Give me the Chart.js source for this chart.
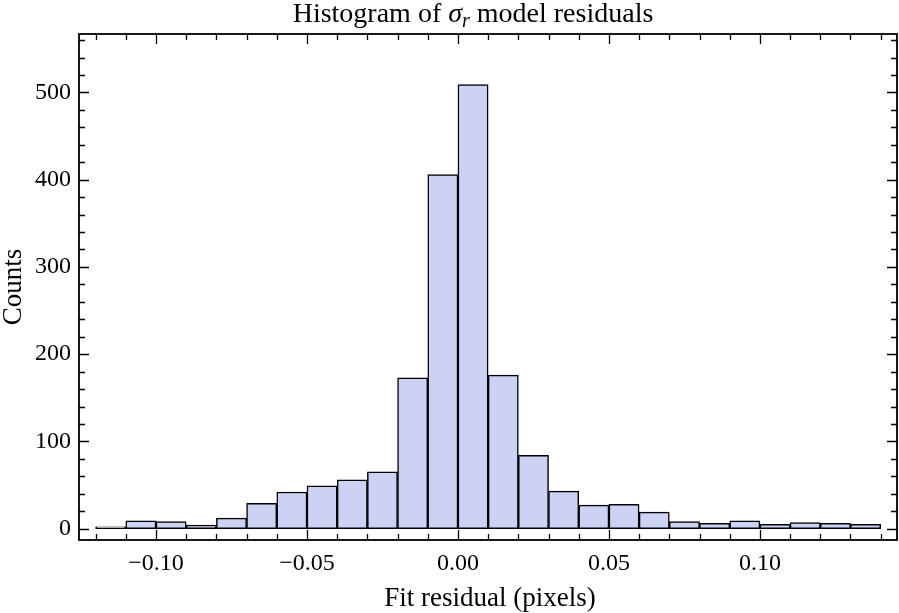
<!DOCTYPE html>
<html>
<head>
<meta charset="utf-8">
<script src="https://cdn.jsdelivr.net/npm/chart.js@4"></script>
<style>
  html, body { margin: 0; padding: 0; background: #fff; }
  #wrap { width: 899px; height: 613px; }
</style>
</head>
<body>
<div id="wrap"><canvas id="hist" width="899" height="613"></canvas></div>
<script>
// histogram of sigma_r residuals - bins of width 0.01

const binCenters = [-0.115, -0.105, -0.095, -0.085, -0.075, -0.065, -0.055, -0.045, -0.035, -0.025,
  -0.015, -0.005, 0.005, 0.015, 0.025, 0.035, 0.045, 0.055, 0.065, 0.075,
  0.085, 0.095, 0.105, 0.115, 0.125, 0.135];
const counts = [2, 9, 8, 4, 12, 29, 42, 49, 56, 65,
  173, 406, 509, 176, 84, 43, 27, 28, 19, 8,
  6, 9, 5, 7, 6, 5];
const xMajorTicks = [-0.10, -0.05, 0.00, 0.05, 0.10];
const yMajorTicks = [0, 100, 200, 300, 400, 500];

const titleText = ['Histogram of ', 'σ', 'r', ' model residuals'];
const xTitle = 'Fit residual (pixels)';
const yTitle = 'Counts';

const SERIF = '"Liberation Serif", "Times New Roman", serif';
const fmtX = v => (v < 0 ? '\u2212' : '') + Math.abs(v).toFixed(2);

// frame + inward ticks on all four sides, and the texts
const framePlugin = {
  id: 'frame',
  afterDraw(chart) {
    const { ctx, chartArea: a, scales } = chart;
    const xs = scales.x, ys = scales.y;
    ctx.save();
    ctx.strokeStyle = '#000';
    ctx.lineWidth = 1.8;
    ctx.strokeRect(a.left, a.top, a.right - a.left, a.bottom - a.top);

    ctx.lineWidth = 1.3;
    ctx.beginPath();
    // x ticks: minor every 0.01, major every 0.05
    for (let k = -12; k <= 14; k++) {
      const v = k / 100;
      const px = Math.round(xs.getPixelForValue(v)) + 0.5;
      const len = (k % 5 === 0) ? 10 : 6;
      ctx.moveTo(px, a.bottom); ctx.lineTo(px, a.bottom - len);
      ctx.moveTo(px, a.top); ctx.lineTo(px, a.top + len);
    }
    // y ticks: minor every 20, major every 100
    for (let v = 0; v <= 560; v += 20) {
      const py = Math.round(ys.getPixelForValue(v)) + 0.5;
      const len = (v % 100 === 0) ? 10 : 6;
      ctx.moveTo(a.left, py); ctx.lineTo(a.left + len, py);
      ctx.moveTo(a.right, py); ctx.lineTo(a.right - len, py);
    }
    ctx.stroke();

    // title with italic sigma_r
    ctx.fillStyle = '#000';
    ctx.textBaseline = 'alphabetic';
    const fs = 28;
    const parts = [
      { t: titleText[0], f: `${fs}px ${SERIF}`, dy: 0 },
      { t: titleText[1], f: `italic ${fs}px ${SERIF}`, dy: 0 },
      { t: titleText[2], f: `italic ${Math.round(fs * 0.72)}px ${SERIF}`, dy: 5 },
      { t: titleText[3], f: `${fs}px ${SERIF}`, dy: 0 }
    ];
    let total = 0;
    parts.forEach(p => { ctx.font = p.f; p.w = ctx.measureText(p.t).width; total += p.w; });
    let x = 473 - total / 2;
    parts.forEach(p => {
      ctx.font = p.f;
      ctx.textAlign = 'left';
      ctx.fillText(p.t, x, 22 + p.dy);
      x += p.w;
    });

    // axis titles
    ctx.font = `27px ${SERIF}`;
    ctx.textAlign = 'center';
    ctx.fillText(xTitle, 490, 606);
    ctx.translate(21, (a.top + a.bottom) / 2);
    ctx.rotate(-Math.PI / 2);
    ctx.fillText(yTitle, 0, 0);
    ctx.restore();
  }
};

new Chart(document.getElementById('hist'), {
  type: 'bar',
  data: {
    datasets: [{
      data: binCenters.map((c, i) => ({ x: c, y: counts[i] })),
      backgroundColor: 'rgb(204,210,244)',
      borderColor: '#000',
      borderWidth: 1.5,
      borderSkipped: false,
      barPercentage: 1,
      categoryPercentage: 1
    }]
  },
  options: {
    responsive: false,
    animation: false,
    layout: { padding: { left: 0, right: 2, top: 34, bottom: 0 } },
    plugins: { legend: { display: false }, tooltip: { enabled: false } },
    scales: {
      x: {
        type: 'linear',
        offset: false,
        min: -0.1255,
        max: 0.1454,
        grid: { display: false, drawTicks: false },
        border: { display: false },
        afterBuildTicks: s => { s.ticks = xMajorTicks.map(v => ({ value: v })); },
        afterFit: s => { s.height = 73; },
        ticks: {
          autoSkip: false,
          maxRotation: 0,
          padding: 9,
          color: '#000',
          font: { family: SERIF, size: 24 },
          callback: v => fmtX(v)
        }
      },
      y: {
        min: -13,
        max: 567,
        grid: { display: false, drawTicks: false },
        border: { display: false },
        afterBuildTicks: s => { s.ticks = yMajorTicks.map(v => ({ value: v })); },
        afterFit: s => { s.width = 79; },
        ticks: {
          padding: 8,
          color: '#000',
          font: { family: SERIF, size: 24 },
          callback: v => String(v)
        }
      }
    }
  },
  plugins: [framePlugin]
});
</script>
</body>
</html>
